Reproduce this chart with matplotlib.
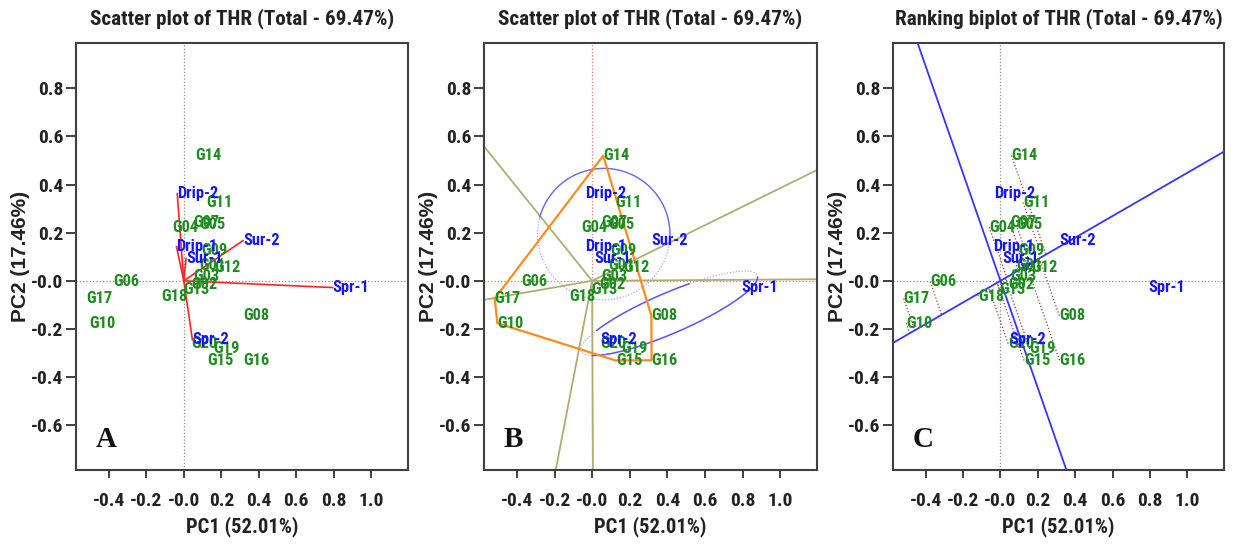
import numpy as np
import matplotlib
matplotlib.use('Agg')
import matplotlib.pyplot as plt
from matplotlib import font_manager as fm

# ---------------- data ----------------
genotypes = ['G01', 'G02', 'G03', 'G04', 'G05', 'G06', 'G07', 'G08', 'G09', 'G10',
             'G11', 'G12', 'G13', 'G14', 'G15', 'G16', 'G17', 'G18', 'G19', 'G20']
gen_pc1 = [0.085, 0.040, 0.050, -0.060, 0.085, -0.376, 0.050, 0.315, 0.094, -0.504,
           0.121, 0.165, -0.004, 0.059, 0.126, 0.316, -0.518, -0.119, 0.156, 0.041]
gen_pc2 = [0.065, -0.014, 0.017, 0.223, 0.232, -0.004, 0.242, -0.145, 0.128, -0.176,
           0.325, 0.056, -0.036, 0.520, -0.331, -0.330, -0.074, -0.064, -0.282, -0.261]

environments = ['Drip-1', 'Drip-2', 'Sur-1', 'Sur-2', 'Spr-1', 'Spr-2']
env_pc1 = [-0.039, -0.035, 0.012, 0.316, 0.794, 0.046]
env_pc2 = [0.142, 0.362, 0.093, 0.167, -0.028, -0.245]

x_ticks = [-0.4, -0.2, 0.0, 0.2, 0.4, 0.6, 0.8, 1.0]
x_tick_labels = ['-0.4', '-0.2', '-0.0', '0.2', '0.4', '0.6', '0.8', '1.0']
y_ticks = [0.8, 0.6, 0.4, 0.2, 0.0, -0.2, -0.4, -0.6]
y_tick_labels = ['0.8', '0.6', '0.4', '0.2', '-0.0', '-0.2', '-0.4', '-0.6']

titles = ['Scatter plot of THR (Total - 69.47%)',
          'Scatter plot of THR (Total - 69.47%)',
          'Ranking biplot of THR (Total - 69.47%)']
letters = ['A', 'B', 'C']
xlabel = 'PC1 (52.01%)'
ylabel = 'PC2 (17.46%)'

# mega-environment shapes in panel B (centre, radii / conjugate axes)
circle_center = (0.062, 0.194)
circle_radii = (0.352, 0.273)
ell_center = (0.41, -0.135)
ell_a = (0.47, 0.15)
ell_b = (0.0, 0.091)

# ---------------- style ----------------
names = {f.name for f in fm.fontManager.ttflist}
FONT = 'Liberation Sans'
for cand in ['Liberation Sans Narrow', 'Arial Narrow', 'Roboto Condensed', 'PT Sans Narrow']:
    if cand in names:
        FONT = cand
        break
plt.rcParams['font.family'] = [FONT, 'DejaVu Sans']

GREEN = '#1f8c1f'
BLUE = '#1414ff'
XLIM = (-0.575, 1.196)
YLIM = (-0.786, 0.988)

fig = plt.figure(figsize=(12.35, 5.44), dpi=100)
lefts = [76, 484, 893]
widths = [332, 333, 331]
axes = [fig.add_axes([l / 1235, 74 / 544, w / 1235, 427 / 544]) for l, w in zip(lefts, widths)]

gx = np.array(gen_pc1)
gy = np.array(gen_pc2)
ex = np.array(env_pc1)
ey = np.array(env_pc2)


def base(ax, title, letter, axcol):
    ax.set_xlim(*XLIM)
    ax.set_ylim(*YLIM)
    ax.set_xticks(x_ticks)
    ax.set_xticklabels(x_tick_labels)
    ax.set_yticks(y_ticks)
    ax.set_yticklabels(y_tick_labels)
    ax.tick_params(axis='x', direction='out', length=6, width=1.3, pad=10,
                   labelsize=14, colors='#303030')
    ax.tick_params(axis='y', direction='out', length=7, width=1.3, pad=2,
                   labelsize=14, colors='#303030')
    for lab in ax.get_xticklabels() + ax.get_yticklabels():
        lab.set_fontweight('bold')
        lab.set_color('#222222')
    for s in ax.spines.values():
        s.set_linewidth(1.5)
        s.set_color('#404040')
    ax.axhline(0, color=axcol, ls=':', lw=0.9, zorder=1)
    ax.axvline(0, color=axcol, ls=':', lw=0.9, zorder=1)
    ax.text(0.5, 1.058, title, transform=ax.transAxes, ha='center', va='center',
            fontsize=15.2, fontweight='bold', color='#222222')
    ax.text(0.5, -0.133, xlabel, transform=ax.transAxes, ha='center', va='center',
            fontsize=14.8, fontweight='bold', color='#222222')
    ax.text(-0.167, 0.5, ylabel, transform=ax.transAxes, ha='center', va='center',
            rotation=90, fontsize=15, fontweight='bold', color='#222222',
            family=['Liberation Sans', 'DejaVu Sans'])
    ax.text(0.058, 0.072, letter, transform=ax.transAxes, ha='left', va='center',
            fontsize=21, fontweight='bold', family='Liberation Serif', color='#111111')


def labels(ax):
    for name, x, y in zip(genotypes, gx, gy):
        ax.text(x, y, name, color=GREEN, fontsize=11.8, fontweight='bold',
                ha='left', va='center', zorder=6)
    for name, x, y in zip(environments, ex, ey):
        ax.text(x, y, name, color=BLUE, fontsize=11.8, fontweight='bold',
                ha='left', va='center', zorder=7)


# ---------------- panel A ----------------
ax = axes[0]
base(ax, titles[0], letters[0], '#8a8a8a')
for x, y in zip(ex, ey):
    ax.plot([0, x], [0, y], color='#ff2424', lw=1.2, zorder=4)
labels(ax)

# ---------------- panel B ----------------
ax = axes[1]
base(ax, titles[1], letters[1], '#ff7070')

pts = sorted(zip(gx, gy))


def cross(o, a, b):
    return (a[0] - o[0]) * (b[1] - o[1]) - (a[1] - o[1]) * (b[0] - o[0])


lower, upper = [], []
for p in pts:
    while len(lower) >= 2 and cross(lower[-2], lower[-1], p) <= 0:
        lower.pop()
    lower.append(p)
for p in reversed(pts):
    while len(upper) >= 2 and cross(upper[-2], upper[-1], p) <= 0:
        upper.pop()
    upper.append(p)
hull = lower[:-1] + upper[:-1]
hx = [p[0] for p in hull] + [hull[0][0]]
hy = [p[1] for p in hull] + [hull[0][1]]
ax.plot(hx, hy, color='#ff8c1a', lw=1.6, zorder=3)

for i in range(len(hull)):
    P = np.array(hull[i])
    Q = np.array(hull[(i + 1) % len(hull)])
    d = Q - P
    n = np.array([d[1], -d[0]])
    if n @ P < 0:
        n = -n
    n = n / np.linalg.norm(n)
    ax.plot([0, 5 * n[0]], [0, 5 * n[1]], color='#b0ad72', lw=1.3, zorder=2)

# circle around Drip/Sur environments
t = np.radians(np.linspace(0, 360, 400))
cx = circle_center[0] + circle_radii[0] * np.cos(t)
cy = circle_center[1] + circle_radii[1] * np.sin(t)
ax.plot(cx, cy, color='#9a9af0', lw=0.8, ls=':', zorder=2)
ts = np.radians(np.linspace(-3, 165, 200))
ax.plot(circle_center[0] + circle_radii[0] * np.cos(ts),
        circle_center[1] + circle_radii[1] * np.sin(ts), color='#6a6af0', lw=1.0, zorder=2)


# ellipse around Spr environments
def ell(tdeg):
    tt = np.radians(tdeg)
    return (ell_center[0] + ell_a[0] * np.cos(tt) + ell_b[0] * np.sin(tt),
            ell_center[1] + ell_a[1] * np.cos(tt) + ell_b[1] * np.sin(tt))


ax.plot(*ell(np.linspace(0, 360, 400)), color='#9a9af0', lw=0.8, ls=':', zorder=2)
ax.plot(*ell(np.linspace(77, 145, 100)), color='#5a5af0', lw=1.1, zorder=2)
ax.plot(*ell(np.linspace(-150, 0, 150)), color='#5a5af0', lw=1.1, zorder=2)
labels(ax)

# ---------------- panel C ----------------
ax = axes[2]
base(ax, titles[2], letters[2], '#8a8a8a')
aec = np.array([ex.mean(), ey.mean()])
u = aec / np.linalg.norm(aec)
v = np.array([-u[1], u[0]])
ax.plot([-5 * u[0], 5 * u[0]], [-5 * u[1], 5 * u[1]], color='#3535ff', lw=1.3, zorder=3)
ax.plot([-5 * v[0], 5 * v[0]], [-5 * v[1], 5 * v[1]], color='#3535ff', lw=1.3, zorder=3)
for x, y in zip(gx, gy):
    tproj = np.array([x, y]) @ u
    ax.plot([x, tproj * u[0]], [y, tproj * u[1]], color='#a83a3a', ls=':', lw=0.9, zorder=2)
ax.annotate('', xy=(aec[0], aec[1]), xytext=(aec[0] * 0.55, aec[1] * 0.55),
            arrowprops=dict(arrowstyle='-|>', color='#2020ff', lw=1.3, mutation_scale=14),
            zorder=5)
labels(ax)

fig.savefig('out.png', dpi=100, facecolor='white')
